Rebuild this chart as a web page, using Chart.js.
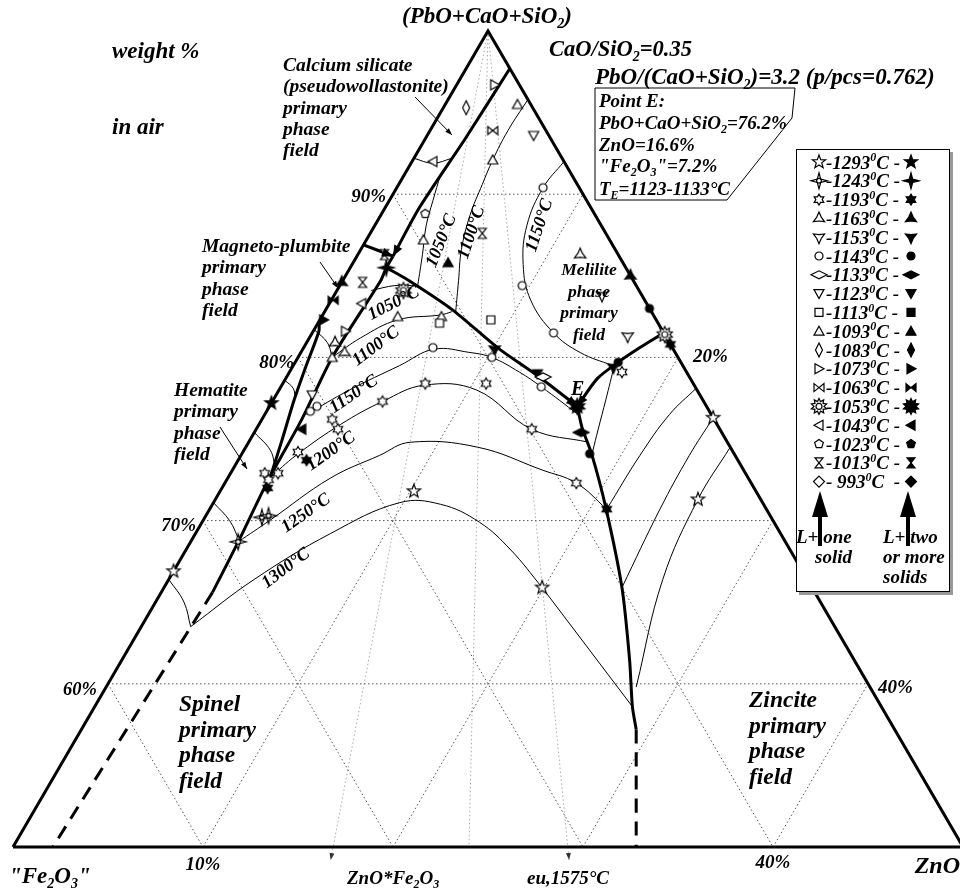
<!DOCTYPE html>
<html>
<head>
<meta charset="utf-8">
<script src="https://cdn.jsdelivr.net/npm/chart.js@4.4.1/dist/chart.umd.min.js"></script>
<style>
  html, body { margin: 0; padding: 0; background: #fff; }
</style>
</head>
<body>
<canvas id="phaseChart" width="960" height="890"></canvas>
<script>
// compositions are wt%: [PbO+CaO+SiO2, ZnO]; "Fe2O3" is the remainder
const pcsLevels = [60, 70, 80, 90];
const znoLevels = [10, 20, 30, 40];
const feLevels = [10, 20, 30, 40];
// ZnO/(ZnO+Fe2O3) along the rays from the top corner
const apexRays = [0.337, 0.48, 0.584];

const temps = [1293, 1243, 1193, 1163, 1153, 1143, 1133, 1123, 1113, 1093, 1083, 1073, 1063, 1053, 1043, 1023, 1013, 993];

// [T, PbO+CaO+SiO2, ZnO]
const oneSolid = [
    [1293, 66.9, 0.0], [1293, 71.8, 10.2], [1293, 65.9, 19.9], [1293, 76.3, 23.7], [1293, 71.3, 25.4],
    [1243, 70.2, 3.0], [1243, 70.3, 3.3], [1243, 68.7, 2.5],
    [1193, 78.4, 7.5], [1193, 78.4, 10.7], [1193, 77.3, 5.8], [1193, 76.2, 3.7], [1193, 75.6, 4.3],
    [1193, 74.2, 2.9], [1193, 75.6, 14.5], [1193, 72.3, 18.5], [1193, 79.1, 17.5], [1193, 72.9, 1.8],
    [1193, 72.9, 2.5], [1193, 72.5, 2.2],
    [1163, 86.3, 11.7], [1163, 80.9, 1.5], [1163, 80.3, 2.3],
    [1153, 81.3, 16.7], [1153, 83.8, 14.1],
    [1143, 90.4, 7.7], [1143, 84.4, 9.6], [1143, 81.5, 12.7], [1143, 80.6, 6.8], [1143, 80.0, 10.2],
    [1143, 78.2, 13.7], [1143, 76.7, 2.3], [1143, 77.0, 2.5],
    [1133, 78.8, 13.5],
    [1123, 93.6, 5.6], [1123, 77.7, 1.9],
    [1113, 82.3, 9.0], [1113, 82.1, 6.4],
    [1093, 95.5, 3.8], [1093, 92.1, 4.2], [1093, 87.2, 3.0], [1093, 82.5, 4.0], [1093, 82.5, 6.3], [1093, 80.0, 1.8],
    [1083, 95.3, 1.2],
    [1073, 96.7, 2.0], [1073, 81.6, 1.7],
    [1063, 93.9, 3.3],
    [1053, 84.1, 3.5], [1053, 81.4, 18.6],
    [1043, 92.0, 1.1], [1043, 83.3, 1.7],
    [1023, 88.8, 2.3],
    [1013, 87.6, 5.9], [1013, 84.6, 1.1], [1013, 86.3, 1.4]
];
const twoSolids = [
    [1293, 77.2, 0.0],
    [1243, 85.5, 1.9],
    [1193, 73.7, 3.6], [1193, 72.0, 2.4], [1193, 70.7, 20.9], [1193, 80.8, 19.2],
    [1163, 85.0, 15.0], [1163, 84.6, 0.0],
    [1153, 79.4, 16.9], [1153, 80.5, 10.1],
    [1143, 83.0, 17.0], [1143, 79.7, 17.0], [1143, 74.1, 18.3],
    [1133, 75.4, 17.2],
    [1123, 79.0, 13.1],
    [1093, 85.8, 5.0],
    [1073, 82.3, 0.2],
    [1063, 83.5, 0.1],
    [1053, 77.0, 16.2],
    [1043, 75.6, 2.4]
];

// phase boundaries
const caSilBoundary = [[97.7, 2.3], [93.4, 2.1], [89.2, 1.8], [86.2, 1.9]];
const plumbiteTop = [[86.9, 0.0], [86.2, 1.9]];
const spinelBoundary = [[86.2, 1.9], [85.5, 1.9], [84.7, 2.0], [80.0, 1.8], [76.2, 2.1], [72.4, 2.2], [68.8, 2.5], [65.6, 2.7]];
const spinelDashed = [[65.6, 2.7], [50.0, 2.1]];
const hematiteBoundary = [[72.7, 2.2], [74.9, 1.7], [77.4, 1.1], [79.4, 0.7], [81.6, 0.3], [82.2, 0.0]];
const meliliteSpinel = [[85.5, 1.9], [84.7, 3.5], [82.9, 6.7], [80.6, 10.2], [78.8, 13.3], [77.0, 16.2]];
const meliliteZincite = [[81.5, 18.5], [80.6, 17.7], [79.7, 17.0], [78.7, 16.4], [77.0, 16.2]];
const spinelZincite = [[77.0, 16.2], [75.7, 17.1], [74.1, 18.4], [70.8, 20.8], [65.9, 24.1], [61.5, 26.7], [58.6, 28.3], [57.2, 29.2]];
const spinelZinciteDashed = [[57.2, 29.2], [50.0, 32.8]];

// isotherms
const iso1300 = [[63.5, 2.6], [66.4, 4.5], [69.2, 7.1], [71.1, 9.8], [71.0, 12.0], [69.9, 14.6], [68.2, 17.1], [65.9, 19.9]];
const iso1300Tail = [[65.9, 19.9], [58.6, 28.3]];
const iso1250 = [[68.7, 2.5], [70.0, 3.5], [72.6, 5.4], [74.0, 7.3], [74.8, 8.5], [74.5, 12.2], [73.1, 16.3], [72.3, 18.5], [70.7, 20.9]];
const iso1200 = [[72.6, 2.2], [74.0, 2.9], [75.9, 4.3], [77.3, 5.8], [78.3, 7.5], [78.0, 10.4], [75.6, 14.5], [74.8, 17.9]];
const iso1150 = [[76.5, 2.2], [78.0, 3.7], [79.5, 5.6], [80.5, 6.9], [80.3, 8.9], [80.0, 10.2], [79.1, 12.1], [78.2, 13.7], [76.5, 16.5]];
const iso1100 = [[80.0, 1.8], [81.2, 2.7], [82.3, 4.1], [82.6, 6.2], [82.8, 6.7]];
const iso1050 = [[84.1, 1.8], [84.4, 2.9], [84.4, 4.1]];
const mel1050 = [[84.4, 4.1], [86.3, 3.4], [88.1, 2.7], [89.6, 2.3], [91.2, 1.9]];
const mel1100 = [[82.8, 6.9], [84.7, 6.1], [86.6, 5.3], [88.7, 4.7], [90.6, 4.4], [92.1, 4.2], [93.9, 4.1], [95.8, 4.2]];
const mel1150 = [[92.0, 8.0], [90.4, 7.7], [88.1, 8.0], [85.7, 9.0], [83.5, 10.5], [81.5, 12.7], [80.3, 14.7], [79.5, 16.8]];
const zinc1150 = [[79.5, 16.9], [77.4, 17.5], [75.6, 18.0], [74.2, 18.4]];
const zinc1250 = [[70.7, 20.9], [74.0, 21.0], [76.5, 21.3], [78.1, 21.9]];
const zinc1300 = [[65.9, 24.1], [70.7, 23.7], [74.0, 23.6], [76.3, 23.7]];
const zincLow = [[59.8, 27.9], [66.4, 26.0], [71.3, 25.4], [74.5, 25.5]];
const hemArcs = [
    [[66.4, 0.0], [65.0, 1.5], [63.5, 2.6]],
    [[71.1, 0.0], [70.0, 1.4], [68.8, 2.5]],
    [[75.4, 0.0], [74.3, 1.4], [73.2, 2.2]],
    [[78.6, 0.0], [78.1, 0.7], [77.5, 1.1]],
    [[81.7, 0.0], [80.9, 1.1], [80.0, 1.8]],
    [[92.2, 0.0], [91.9, 1.15], [92.2, 2.0]]
];

const shapeOf = {
    1293: 'star5', 1243: 'star4', 1193: 'star6', 1163: 'tri3up', 1153: 'tri3down', 1143: 'circle',
    1133: 'diamondWide', 1123: 'triDown', 1113: 'square', 1093: 'triUp', 1083: 'diamondTall',
    1073: 'triRight', 1063: 'bowtie', 1053: 'sun', 1043: 'triLeft', 1023: 'pentagon', 1013: 'hourglass', 993: 'diamond'
};

// ternary -> cartesian (x in % along the base, y = PbO+CaO+SiO2)
const tern = (p, z) => ({ x: z + (p - 50) / 2, y: p });

const FONT = '"Liberation Serif", "Times New Roman", serif';
const font = size => `italic bold ${size}px ${FONT}`;

function starPath(c, n, R, r, rot) {
    for (let i = 0; i < 2 * n; i++) {
        const a = rot + i * Math.PI / n;
        const rad = i % 2 ? r : R;
        const px = Math.cos(a) * rad, py = Math.sin(a) * rad;
        i ? c.lineTo(px, py) : c.moveTo(px, py);
    }
    c.closePath();
}
function polyPath(c, pts) {
    pts.forEach((p, i) => i ? c.lineTo(p[0], p[1]) : c.moveTo(p[0], p[1]));
    c.closePath();
}

function drawSymbol(c, shape, filled, x, y) {
    c.save();
    c.translate(x, y);
    c.lineWidth = 1.2;
    c.strokeStyle = '#000';
    c.fillStyle = filled ? '#000' : '#fff';
    c.beginPath();
    switch (shape) {
        case 'star5': starPath(c, 5, 7, 2.9, -Math.PI / 2); break;
        case 'star4': starPath(c, 4, 8, 2.4, 0); break;
        case 'star6': starPath(c, 6, 5.5, 3.2, -Math.PI / 2); break;
        case 'tri3up': starPath(c, 3, 6.5, 2.6, -Math.PI / 2); break;
        case 'tri3down': starPath(c, 3, 6.5, 2.6, Math.PI / 2); break;
        case 'circle': c.arc(0, 0, 4, 0, Math.PI * 2); break;
        case 'diamondWide': polyPath(c, [[8, 0], [0, 4], [-8, 0], [0, -4]]); break;
        case 'triDown': polyPath(c, [[-5, -4], [5, -4], [0, 5]]); break;
        case 'square': c.rect(-4, -4, 8, 8); break;
        case 'triUp': polyPath(c, [[0, -5], [5, 4], [-5, 4]]); break;
        case 'diamondTall': polyPath(c, [[0, -7], [3.5, 0], [0, 7], [-3.5, 0]]); break;
        case 'triRight': polyPath(c, [[-4, -5], [5, 0], [-4, 5]]); break;
        case 'bowtie': polyPath(c, [[-5, -4], [5, 4], [5, -4], [-5, 4]]); break;
        case 'sun': starPath(c, 10, 8, 5, -Math.PI / 2); break;
        case 'triLeft': polyPath(c, [[4, -5], [-5, 0], [4, 5]]); break;
        case 'pentagon': starPath(c, 5, 4.6, 4.6 * Math.cos(Math.PI / 5), -Math.PI / 2); break;
        case 'hourglass': polyPath(c, [[-4, -5], [4, -5], [-4, 5], [4, 5]]); break;
        case 'diamond': polyPath(c, [[0, -5.5], [5.5, 0], [0, 5.5], [-5.5, 0]]); break;
    }
    c.fill();
    c.stroke();
    if (!filled && (shape === 'star4' || shape === 'sun')) {
        c.beginPath();
        c.arc(0, 0, shape === 'sun' ? 3 : 2.4, 0, Math.PI * 2);
        c.stroke();
    }
    c.restore();
}

const symbolCache = {};
function symbolCanvas(shape, filled) {
    const key = shape + (filled ? 'F' : 'O');
    if (!symbolCache[key]) {
        const cv = document.createElement('canvas');
        cv.width = 22;
        cv.height = 22;
        drawSymbol(cv.getContext('2d'), shape, filled, 11, 11);
        symbolCache[key] = cv;
    }
    return symbolCache[key];
}

// text with _x subscripts and ^x superscripts
function rich(c, str, x, y, size, align = 'left') {
    const parts = [];
    let buf = '';
    for (let i = 0; i < str.length; i++) {
        if ((str[i] === '_' || str[i] === '^') && i + 1 < str.length) {
            if (buf) { parts.push({ t: buf, k: 0 }); buf = ''; }
            parts.push({ t: str[i + 1], k: str[i] === '_' ? 1 : 2 });
            i++;
        } else {
            buf += str[i];
        }
    }
    if (buf) parts.push({ t: buf, k: 0 });
    const small = Math.round(size * 0.62);
    let w = 0;
    parts.forEach(p => {
        c.font = font(p.k ? small : size);
        p.w = c.measureText(p.t).width;
        w += p.w;
    });
    let cx = align === 'center' ? x - w / 2 : align === 'right' ? x - w : x;
    c.textAlign = 'left';
    c.textBaseline = 'alphabetic';
    parts.forEach(p => {
        c.font = font(p.k ? small : size);
        const dy = p.k === 1 ? size * 0.2 : p.k === 2 ? -size * 0.38 : 0;
        c.fillText(p.t, cx, y + dy);
        cx += p.w;
    });
}

function arrowHead(c, x0, y0, x1, y1, len, half) {
    const a = Math.atan2(y1 - y0, x1 - x0);
    const bx = x1 - Math.cos(a) * len, by = y1 - Math.sin(a) * len;
    c.beginPath();
    c.moveTo(x1, y1);
    c.lineTo(bx + Math.sin(a) * half, by - Math.cos(a) * half);
    c.lineTo(bx - Math.sin(a) * half, by + Math.cos(a) * half);
    c.closePath();
    c.fill();
}

function pointer(c, x0, y0, x1, y1) {
    c.beginPath();
    c.moveTo(x0, y0);
    c.lineTo(x1, y1);
    c.lineWidth = 1;
    c.stroke();
    arrowHead(c, x0, y0, x1, y1, 7, 2.5);
}

function rotated(c, str, x, y, deg, size) {
    c.save();
    c.translate(x, y);
    c.rotate(deg * Math.PI / 180);
    rich(c, str, 0, size * 0.35, size, 'center');
    c.restore();
}

function line(points, opts) {
    return Object.assign({
        data: points.map(p => tern(p[0], p[1])),
        showLine: true, pointRadius: 0, borderColor: '#000', borderWidth: 1,
        fill: false, clip: false, order: 2, tension: 0.4
    }, opts);
}

const datasets = [];

// L + one solid (open) and L + two or more solids (filled)
[[oneSolid, false], [twoSolids, true]].forEach(([list, filled]) => {
    temps.forEach(t => {
        const pts = list.filter(r => r[0] === t);
        if (!pts.length) return;
        datasets.push({
            data: pts.map(r => tern(r[1], r[2])),
            pointStyle: symbolCanvas(shapeOf[t], filled),
            pointRadius: 5, showLine: false, clip: false, order: 0
        });
    });
});

const thick = { borderWidth: 3, order: 1, tension: 0.25 };
datasets.push(line([[50, 0], [100, 0], [50, 50], [50, 0]], { borderWidth: 3, order: 1, tension: 0 }));
datasets.push(line(caSilBoundary, { ...thick, arrowEnd: true }));
datasets.push(line(plumbiteTop, { ...thick, arrowEnd: true }));
datasets.push(line(spinelBoundary, thick));
datasets.push(line(spinelDashed, { ...thick, borderDash: [14, 9] }));
datasets.push(line(hematiteBoundary, thick));
datasets.push(line(meliliteSpinel, { ...thick, arrowEnd: true }));
datasets.push(line(meliliteZincite, { ...thick, arrowEnd: true }));
datasets.push(line(spinelZincite, thick));
datasets.push(line(spinelZinciteDashed, { ...thick, borderDash: [14, 9] }));

[iso1300, iso1250, iso1200, iso1150, iso1100, iso1050, mel1050, mel1100, mel1150,
 zinc1150, zinc1250, zinc1300, zincLow, ...hemArcs].forEach(pts => datasets.push(line(pts, {})));
datasets.push(line(iso1300Tail, { tension: 0 }));

// grid
const grid = { borderWidth: 1, borderColor: '#555', borderDash: [1.5, 2.5], order: 3, tension: 0 };
pcsLevels.forEach(p => datasets.push(line([[p, 0], [p, 100 - p]], grid)));
znoLevels.forEach(z => datasets.push(line([[50, z], [100 - z, z]], grid)));
feLevels.forEach(f => datasets.push(line([[100 - f, 0], [50, 50 - f]], grid)));
apexRays.forEach((r, i) => {
    const pEnd = i === 1 ? 50 : 49.2;
    datasets.push(line([[100, 0], [pEnd, r * (100 - pEnd)]],
        { ...grid, borderColor: '#aaa', arrowEnd: i !== 1, arrowSize: 7, arrowWidth: 2.5, arrowColor: '#333' }));
});

const decorPlugin = {
    id: 'decor',
    afterDatasetsDraw(chart) {
        const c = chart.ctx;
        c.save();
        chart.data.datasets.forEach((ds, i) => {
            if (!ds.arrowEnd) return;
            const pts = chart.getDatasetMeta(i).data;
            const a = pts[pts.length - 2], b = pts[pts.length - 1];
            c.fillStyle = ds.arrowColor || '#000';
            arrowHead(c, a.x, a.y, b.x, b.y, ds.arrowSize || 11, ds.arrowWidth || 4.5);
        });
        c.restore();
    },
    afterDraw(chart) {
        const c = chart.ctx;
        c.save();
        c.fillStyle = '#000';
        c.strokeStyle = '#000';

        rich(c, '(PbO+CaO+SiO_2)', 487, 23, 23, 'center');
        rich(c, 'weight %', 112, 58, 23);
        rich(c, 'in air', 112, 134, 23);
        rich(c, 'CaO/SiO_2=0.35', 549, 56, 22.5);
        rich(c, 'PbO/(CaO+SiO_2)=3.2 (p/pcs=0.762)', 595, 84, 23);

        // point E box
        c.lineWidth = 1;
        c.beginPath();
        c.moveTo(595, 88); c.lineTo(795, 88); c.lineTo(792, 118); c.lineTo(727, 200); c.lineTo(595, 200);
        c.closePath();
        c.stroke();
        rich(c, 'Point E:', 599, 107, 19);
        rich(c, 'PbO+CaO+SiO_2=76.2%', 599, 129, 19);
        rich(c, 'ZnO=16.6%', 599, 151, 19);
        rich(c, '"Fe_2O_3"=7.2%', 599, 172, 19);
        rich(c, 'T_E=1123-1133°C', 599, 195, 19);

        // legend
        c.fillStyle = '#999';
        c.fillRect(799, 152, 154, 443);
        c.fillStyle = '#fff';
        c.fillRect(796, 149, 154, 443);
        c.strokeRect(796.5, 149.5, 153, 442);
        c.fillStyle = '#000';
        temps.forEach((t, i) => {
            const y = 162 + i * 18.8;
            drawSymbol(c, shapeOf[t], false, 819, y);
            drawSymbol(c, shapeOf[t], true, 911, y);
            rich(c, t < 1000 ? `- ${t}^0C  -` : `-${t}^0C -`, 826, y + 6.5, 19);
        });
        [820, 908].forEach(x => {
            c.fillRect(x - 2, 512, 4, 34);
            c.beginPath();
            c.moveTo(x, 491); c.lineTo(x + 8, 517); c.lineTo(x - 8, 517);
            c.closePath();
            c.fill();
        });
        rich(c, 'L+ one', 796, 543, 19);
        rich(c, 'solid', 815, 563, 19);
        rich(c, 'L+ two', 883, 543, 19);
        rich(c, 'or more', 883, 563, 19);
        rich(c, 'solids', 883, 583, 19);

        // axis labels
        rich(c, '90%', 386, 202, 19, 'right');
        rich(c, '80%', 294, 368, 19, 'right');
        rich(c, '70%', 196, 531, 19, 'right');
        rich(c, '60%', 97, 695, 18.5, 'right');
        rich(c, '20%', 693, 362, 19);
        rich(c, '40%', 878, 693, 19);
        rich(c, '10%', 203, 870, 19, 'center');
        rich(c, '40%', 773, 868, 19, 'center');
        rich(c, '"Fe_2O_3"', 9, 883, 23);
        rich(c, 'ZnO', 960, 873, 24, 'right');
        rich(c, 'ZnO*Fe_2O_3', 347, 884, 19);
        rich(c, 'eu,1575°C', 527, 884, 19);

        // fields
        ['Calcium silicate', '(pseudowollastonite)', 'primary', 'phase', 'field']
            .forEach((s, i) => rich(c, s, 283, 71 + i * 21.3, 19.5));
        ['Magneto-plumbite', 'primary', 'phase', 'field']
            .forEach((s, i) => rich(c, s, 202, 252 + i * 21.3, 19.5));
        ['Hematite', 'primary', 'phase', 'field']
            .forEach((s, i) => rich(c, s, 174, 396 + i * 21.3, 19.5));
        ['Spinel', 'primary', 'phase', 'field']
            .forEach((s, i) => rich(c, s, 179, 711 + i * 25.5, 23.5));
        ['Zincite', 'primary', 'phase', 'field']
            .forEach((s, i) => rich(c, s, 749, 707 + i * 25.5, 23.5));
        ['Melilite', 'phase', 'primary', 'field']
            .forEach((s, i) => rich(c, s, 589, 275 + i * 21.7, 17.5, 'center'));
        rich(c, 'E', 571, 395, 20);

        c.fillStyle = '#000';
        pointer(c, 415, 97, 452, 135);
        pointer(c, 320, 262, 338, 288);
        pointer(c, 220, 427, 247, 469);

        // isotherm labels
        [['1050°C', 393, 302, -27], ['1100°C', 375, 345, -37], ['1150°C', 353, 393, -34],
         ['1200°C', 330, 450, -35], ['1250°C', 305, 512, -35], ['1300°C', 285, 567, -37],
         ['1050°C', 440, 240, -68], ['1100°C', 470, 232, -72], ['1150°C', 538, 225, -72]]
            .forEach(([s, x, y, a]) => rotated(c, s, x, y, a, 18));
        c.restore();
    }
};

new Chart(document.getElementById('phaseChart').getContext('2d'), {
    type: 'scatter',
    data: { datasets },
    options: {
        responsive: false,
        animation: false,
        events: [],
        layout: { padding: 0, autoPadding: false },
        scales: {
            x: { type: 'linear', min: -13 / 19, max: 947 / 19, display: false },
            y: { type: 'linear', min: 50 - 43 / 16.32, max: 50 + 847 / 16.32, display: false }
        },
        plugins: { legend: { display: false }, tooltip: { enabled: false } }
    },
    plugins: [decorPlugin]
});
</script>
</body>
</html>
